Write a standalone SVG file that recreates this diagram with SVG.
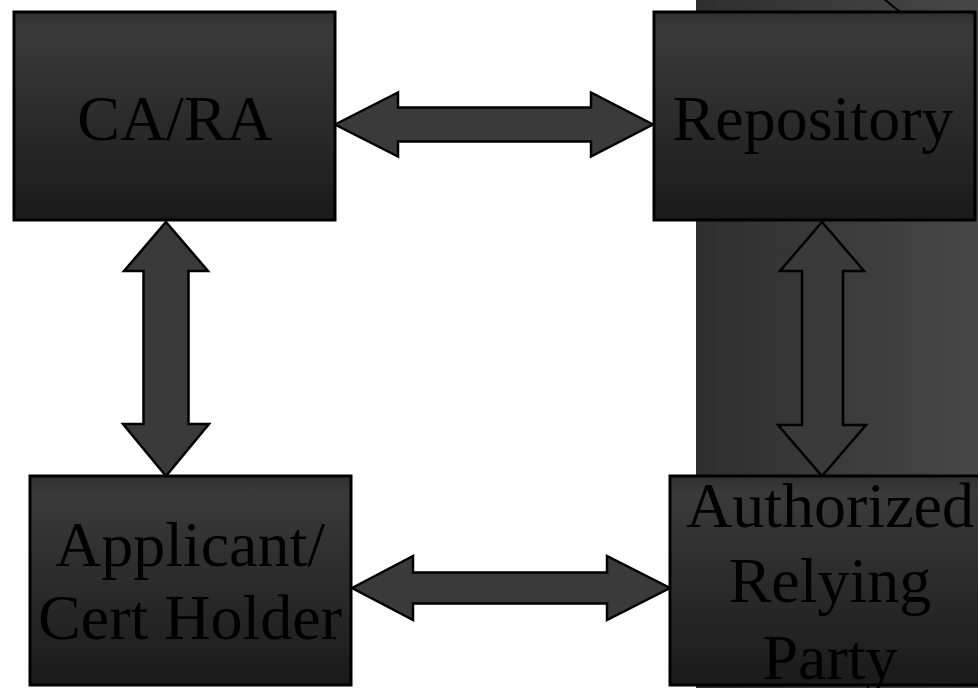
<svg xmlns="http://www.w3.org/2000/svg" width="978" height="688" viewBox="0 0 978 688">
  <defs>
    <linearGradient id="boxFill" x1="0" y1="0" x2="0" y2="1">
      <stop offset="0" stop-color="#303030"/>
      <stop offset="0.08" stop-color="#3a3a3a"/>
      <stop offset="1" stop-color="#1a1a1a"/>
    </linearGradient>
    <linearGradient id="bandFill" x1="0" y1="0" x2="1" y2="0">
      <stop offset="0" stop-color="#2e2e2e"/>
      <stop offset="1" stop-color="#474747"/>
    </linearGradient>
  </defs>
  <style>
    .box { fill: url(#boxFill); stroke: #000; stroke-width: 3; }
    .label { font-family: "Liberation Serif", "Times New Roman", serif; font-size: 64px; fill: #000; text-anchor: middle; }
    .arrow { fill: #3a3a3a; stroke: #000; stroke-width: 2.5; stroke-linejoin: miter; }
  </style>

  <rect x="0" y="0" width="978" height="688" fill="#fff"/>
  <!-- background band on the right -->
  <rect x="696" y="0" width="282" height="688" fill="url(#bandFill)"/>
  <line x1="884" y1="-1" x2="900" y2="12" stroke="#000" stroke-width="2"/>

  <g id="connectors">
    <!-- CA/RA <-> Repository -->
    <polygon class="arrow" points="335,124.5 398,92.5 398,107.5 591,107.5 591,92.5 653,124.5 591,156.5 591,141.5 398,141.5 398,156.5"/>
    <!-- Applicant <-> Authorized Relying Party -->
    <polygon class="arrow" points="352,588 413,556 413,572.5 607,572.5 607,556 670,588 607,620 607,603.5 413,603.5 413,620"/>
    <!-- CA/RA <-> Applicant -->
    <polygon class="arrow" points="166,222 208,271 188.5,271 188.5,424 209,424 166,476 123,424 143.5,424 143.5,271 124,271"/>
    <!-- Repository <-> Authorized Relying Party -->
    <polygon class="arrow" points="822,222 864,271 843,271 843,425 866,425 822,476 778,425 802,425 802,271 780,271"/>
  </g>

  <g id="node-ca-ra">
    <rect class="box" x="14" y="12" width="321" height="208"/>
    <text class="label" x="175" y="140">CA/RA</text>
  </g>

  <g id="node-repository">
    <rect class="box" x="654" y="12" width="321" height="208"/>
    <text class="label" x="813" y="140">Repository</text>
  </g>

  <g id="node-applicant">
    <rect class="box" x="30" y="476" width="321" height="209"/>
    <text class="label" x="190" y="566">Applicant/</text>
    <text class="label" x="190" y="639">Cert Holder</text>
  </g>

  <g id="node-relying-party">
    <rect class="box" x="670" y="476" width="321" height="209"/>
    <text class="label" x="830" y="527">Authorized</text>
    <text class="label" x="830" y="602">Relying</text>
    <text class="label" x="830" y="679">Party</text>
  </g>
</svg>
